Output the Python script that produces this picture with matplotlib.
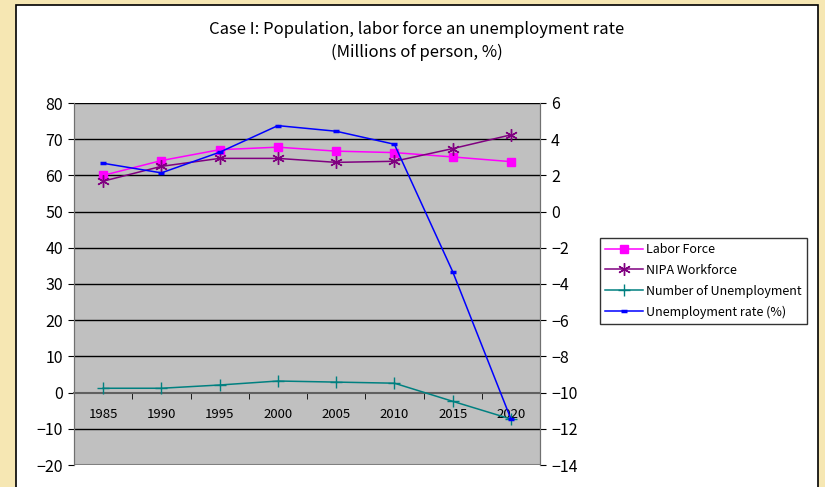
import matplotlib
matplotlib.use('Agg')
import matplotlib.pyplot as plt
from matplotlib.patches import Rectangle

plt.rcParams['font.family'] = ['Noto Sans CJK JP', 'DejaVu Sans']

years = ['1985', '1990', '1995', '2000', '2005', '2010', '2015', '2020']
labor_force = [60.0, 64.1, 67.1, 67.8, 66.7, 66.3, 65.1, 63.8]
nipa_workforce = [58.4, 62.5, 64.7, 64.7, 63.6, 63.9, 67.4, 71.2]
unemployed = [1.2, 1.2, 2.1, 3.2, 2.9, 2.6, -2.4, -7.3]
unemp_rate = [2.67, 2.14, 3.28, 4.75, 4.44, 3.72, -3.31, -11.45]

fig = plt.figure(figsize=(8.25, 4.87), dpi=100)
fig.patch.set_facecolor('#F6E7B3')
# white chart frame
fig.patches.append(Rectangle((16/825, -0.01), (818-16)/825, 1 - 5/487 + 0.01,
                             transform=fig.transFigure, facecolor='white',
                             edgecolor='black', linewidth=1.2, zorder=-5))

ax = fig.add_axes([74/825, 1 - 465/487, (540-74)/825, (465-103)/487])
ax.set_facecolor('#C0C0C0')
x = list(range(len(years)))

ax.set_xlim(-0.5, len(years) - 0.5)
ax.set_ylim(-20, 80)
ax.set_yticks(range(-20, 81, 10))
for v in range(-10, 81, 10):
    if v != 0:
        ax.axhline(v, color='black', lw=1, zorder=1)
ax.axhline(-20, color='#808080', lw=1.5, zorder=1)

ax.spines['top'].set_visible(False)
ax.spines['left'].set_color('#707070')
ax.spines['right'].set_color('#707070')
ax.spines['bottom'].set_position(('data', 0))
ax.spines['bottom'].set_color('#606060')
ax.spines['bottom'].set_linewidth(1.5)

ax.set_xticks(x)
ax.set_xticklabels(years, fontsize=9.5)
ax.set_xticks([i + 0.5 for i in x[:-1]], minor=True)
ax.tick_params(axis='x', which='major', length=0, pad=11)
ax.tick_params(axis='x', which='minor', length=4, direction='out', color='black')
ax.tick_params(axis='y', labelsize=11.5, length=4, color='black', pad=4)

l1, = ax.plot(x, labor_force, color='#FF00FF', marker='s', markersize=6,
              lw=1.1, label='Labor Force', zorder=3)
l2, = ax.plot(x, nipa_workforce, color='#800080', marker=(6, 2, 0), markersize=9,
              markeredgewidth=1, lw=1.1, label='NIPA Workforce', zorder=3)
l3, = ax.plot(x, unemployed, color='#008080', marker='+', markersize=9,
              markeredgewidth=1, lw=1.1, label='Number of Unemployment', zorder=3)

ax2 = ax.twinx()
ax2.set_ylim(-14, 6)
ax2.set_yticks(range(-14, 7, 2))
ax2.tick_params(axis='y', labelsize=11.5, length=4, color='black', pad=4)
for s in ['top', 'bottom']:
    ax2.spines[s].set_visible(False)
ax2.spines['left'].set_color('#707070')
ax2.spines['right'].set_color('#707070')
l4, = ax2.plot(x, unemp_rate, color='#0000FF', marker='_', markersize=5,
               markeredgewidth=2.5, lw=1.1, label='Unemployment rate (%)', zorder=3)

fig.legend(handles=[l1, l2, l3, l4], loc='upper left',
           bbox_to_anchor=(600/825, 1 - 238/487), fontsize=9,
           frameon=True, fancybox=False, edgecolor='black',
           borderpad=0.4, labelspacing=0.62, handlelength=3.0,
           handletextpad=0.3, borderaxespad=0)

fig.text(417/825, 1 - 30/487, 'Case I: Population, labor force an unemployment rate',
         ha='center', va='center', fontsize=12)
fig.text(417/825, 1 - 52/487, '(Millions of person, %)',
         ha='center', va='center', fontsize=12)

fig.savefig('out.png', dpi=100, facecolor=fig.get_facecolor())
